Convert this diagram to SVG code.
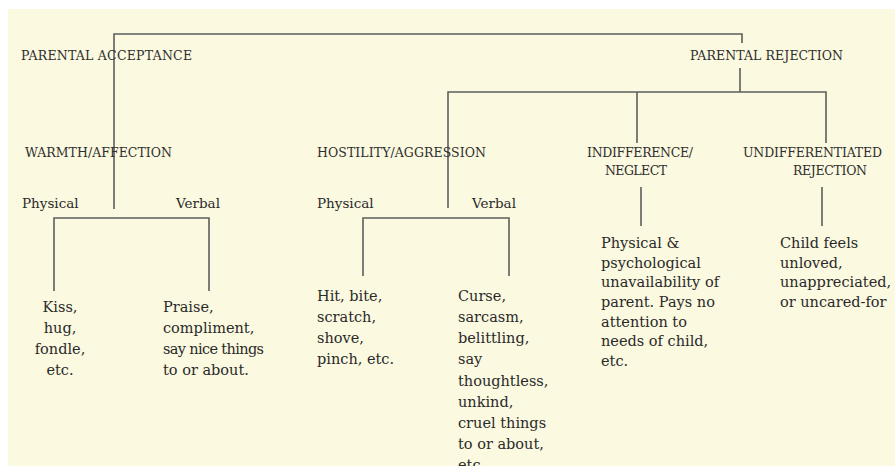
<svg xmlns="http://www.w3.org/2000/svg" width="895" height="466" viewBox="0 0 895 466">
<style>
.bg{fill:#fbf9e0}
.h{font-family:"DejaVu Serif","Liberation Serif",serif;font-size:12.5px;fill:#2e2e2e}
.s{font-family:"DejaVu Serif","Liberation Serif",serif;font-size:13.5px;fill:#2a2a2a}
.b{font-family:"DejaVu Serif","Liberation Serif",serif;font-size:14.5px;fill:#2a2a2a}
.c{text-anchor:middle}
#connectors path{fill:none;stroke:#5e5e5e;stroke-width:1.6}
</style>
<rect width="895" height="466" fill="#ffffff"/>
<rect class="bg" x="8" y="9" width="887" height="457"/>
<g id="connectors">
<path d="M742,43 V34 H114 V209"/>
<path d="M740,68 V92"/>
<path d="M448,208 V92 H826 V143"/>
<path d="M637,92 V143"/>
<path d="M54,291 V218 H209 V291"/>
<path d="M363,276 V218 H509 V276"/>
<path d="M641,187 V226"/>
<path d="M822,187 V226"/>
</g>
<g id="parental-acceptance"><text class="h" x="21" y="60" textLength="171">PARENTAL ACCEPTANCE</text></g>
<g id="parental-rejection"><text class="h" x="690" y="60" textLength="153">PARENTAL REJECTION</text></g>
<g id="warmth-affection"><text class="h" x="25" y="157" textLength="147">WARMTH/AFFECTION</text></g>
<g id="hostility-aggression"><text class="h" x="317" y="157" textLength="169">HOSTILITY/AGGRESSION</text></g>
<g id="indifference-neglect"><text class="h" x="587" y="157" textLength="106">INDIFFERENCE/</text><text class="h" x="605" y="175" textLength="62">NEGLECT</text></g>
<g id="undifferentiated-rejection"><text class="h" x="743" y="157" textLength="139">UNDIFFERENTIATED</text><text class="h" x="793" y="175" textLength="74">REJECTION</text></g>
<g id="warmth-physical"><text class="s" x="22" y="208">Physical</text></g>
<g id="warmth-verbal"><text class="s" x="176" y="208">Verbal</text></g>
<g id="hostility-physical"><text class="s" x="317" y="208">Physical</text></g>
<g id="hostility-verbal"><text class="s" x="472" y="208">Verbal</text></g>
<g id="kiss"><text class="b c" x="60" y="312">Kiss,</text><text class="b c" x="60" y="333">hug,</text><text class="b c" x="60" y="354">fondle,</text><text class="b c" x="60" y="375">etc.</text></g>
<g id="praise"><text class="b" x="163" y="312">Praise,</text><text class="b" x="163" y="333">compliment,</text><text class="b" x="163" y="354" textLength="101">say nice things</text><text class="b" x="163" y="375">to or about.</text></g>
<g id="hit"><text class="b" x="317" y="301">Hit, bite,</text><text class="b" x="317" y="322">scratch,</text><text class="b" x="317" y="343">shove,</text><text class="b" x="317" y="364">pinch, etc.</text></g>
<g id="curse"><text class="b" x="458" y="301">Curse,</text><text class="b" x="458" y="322">sarcasm,</text><text class="b" x="458" y="343">belittling,</text><text class="b" x="458" y="364">say</text><text class="b" x="458" y="386">thoughtless,</text><text class="b" x="458" y="407">unkind,</text><text class="b" x="458" y="428">cruel things</text><text class="b" x="458" y="449">to or about,</text><text class="b" x="458" y="470">etc.</text></g>
<g id="neglect-desc"><text class="b" x="601" y="248">Physical &amp;</text><text class="b" x="601" y="268">psychological</text><text class="b" x="601" y="287">unavailability of</text><text class="b" x="601" y="307">parent. Pays no</text><text class="b" x="601" y="327">attention to</text><text class="b" x="601" y="346">needs of child,</text><text class="b" x="601" y="366">etc.</text></g>
<g id="rejection-desc"><text class="b" x="780" y="248">Child feels</text><text class="b" x="780" y="268">unloved,</text><text class="b" x="780" y="287">unappreciated,</text><text class="b" x="780" y="307">or uncared-for</text></g>
</svg>
